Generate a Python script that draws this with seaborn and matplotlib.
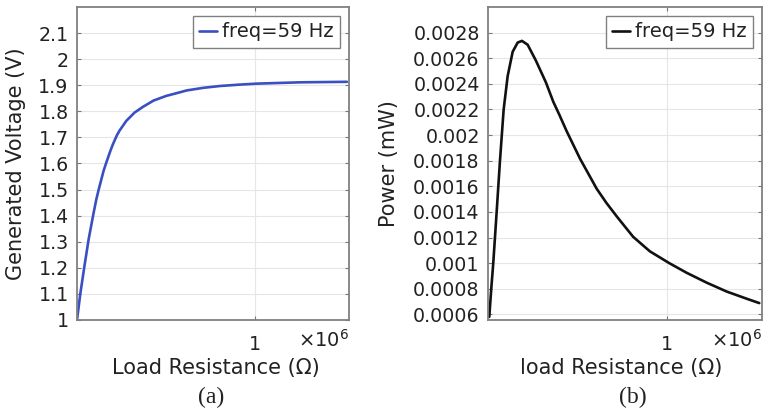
import numpy as np
import pandas as pd
import matplotlib
matplotlib.use("Agg")
import matplotlib.pyplot as plt
import seaborn as sns

# load resistance sweep (ohm) and readings
r_volt = [1.30e5, 1.46e5, 1.66e5, 1.87e5, 2.11e5, 2.243e5, 2.36e5, 2.487e5, 2.60e5, 2.731e5,
          2.93e5, 3.058e5, 3.25e5, 3.38e5, 3.707e5, 4.113e5, 4.524e5, 5.04e5, 5.662e5,
          6.15e5, 6.67e5, 7.48e5, 8.30e5, 9.2e5, 1.01e6, 1.22e6, 1.45e6]
voltage = [1.0, 1.10, 1.205, 1.31, 1.41, 1.462, 1.50, 1.538, 1.572, 1.603,
           1.648, 1.674, 1.708, 1.726, 1.763, 1.795, 1.817, 1.841, 1.859,
           1.869, 1.880, 1.890, 1.897, 1.902, 1.906, 1.911, 1.913]

r_power = [1.363e5, 1.46e5, 1.557e5, 1.722e5, 1.883e5, 2.062e5, 2.256e5, 2.499e5, 2.742e5,
           2.95e5, 3.227e5, 3.63e5, 4.115e5, 4.47e5, 4.76e5, 5.12e5, 5.77e5, 6.58e5, 7.05e5,
           7.55e5, 8.35e5, 9.16e5, 1.01e6, 1.094e6, 1.191e6, 1.289e6, 1.386e6, 1.447e6]
power = [0.00058, 0.00080, 0.001, 0.0014, 0.0018, 0.0022, 0.00246, 0.00265, 0.002722,
         0.002735, 0.002705, 0.00258, 0.00241, 0.00226, 0.00216, 0.00203, 0.001815, 0.00158, 0.00147,
         0.001365, 0.001205, 0.001092, 0.001, 0.000925, 0.000848, 0.000778, 0.000722, 0.000688]

volt_ticks = [1, 1.1, 1.2, 1.3, 1.4, 1.5, 1.6, 1.7, 1.8, 1.9, 2, 2.1]
volt_labels = ["1", "1.1", "1.2", "1.3", "1.4", "1.5", "1.6", "1.7", "1.8", "1.9", "2", "2.1"]
pow_ticks = [0.0006, 0.0008, 0.001, 0.0012, 0.0014, 0.0016, 0.0018, 0.002,
             0.0022, 0.0024, 0.0026, 0.0028]
pow_labels = ["0.0006", "0.0008", "0.001", "0.0012", "0.0014", "0.0016", "0.0018", "0.002",
              "0.0022", "0.0024", "0.0026", "0.0028"]

df_v = pd.DataFrame({"R": r_volt, "V": voltage})
df_p = pd.DataFrame({"R": r_power, "P": power})

sns.set_theme(style="white")
plt.rcParams["font.family"] = ["DejaVu Sans"]
plt.rcParams["text.color"] = "#222222"
plt.rcParams["axes.labelcolor"] = "#222222"
plt.rcParams["xtick.labelcolor"] = "#222222"
plt.rcParams["ytick.labelcolor"] = "#222222"

fig = plt.figure(figsize=(7.64, 4.13), dpi=100)
ax1 = fig.add_axes([0.1008, 0.2252, 0.356, 0.758])
ax2 = fig.add_axes([0.6387, 0.2252, 0.3586, 0.758])

sns.lineplot(data=df_v, x="R", y="V", ax=ax1, color="#3a4fc1", lw=1.9, label="freq=59 Hz")
sns.lineplot(data=df_p, x="R", y="P", ax=ax2, color="#111111", lw=1.9, label="freq=59 Hz")

ax1.set_ylim(1, 2.2)
ax1.set_yticks(volt_ticks)
ax1.set_yticklabels(volt_labels)
ax2.set_ylim(0.000556, 0.003)
ax2.set_yticks(pow_ticks)
ax2.set_yticklabels(pow_labels)

panels = [(ax1, "Load Resistance (\u03a9)", "Generated Voltage (V)", "(a)", 0.511, -0.1875, 0.493),
          (ax2, "load Resistance (\u03a9)", "Power (mW)", "(b)", 0.485, -0.325, 0.53)]
for ax, xlab, ylab, tag, xlx, ylx, tagx in panels:
    ax.set_xlim(1.3e5, 1.46e6)
    ax.set_xticks([1e6])
    ax.set_xticklabels(["1"])
    ax.grid(True, color="#e6e6e6", lw=0.8)
    ax.tick_params(direction="in", length=3, width=0.8, color="#777777",
                   labelsize=13.7, pad=6, left=True, right=True, top=True, bottom=True)
    ax.tick_params(axis="x", pad=11)
    for s in ax.spines.values():
        s.set_color("#808080")
        s.set_linewidth(1.3)
    ax.set_xlabel(xlab, fontsize=15)
    ax.set_ylabel(ylab, fontsize=15)
    ax.xaxis.set_label_coords(xlx, -0.12)
    ax.yaxis.set_label_coords(ylx, 0.5)
    ax.text(1.0, -0.03, r"$\times10^{6}$", transform=ax.transAxes, ha="right", va="top",
            fontsize=14)
    ax.text(tagx, -0.246, tag, transform=ax.transAxes, ha="center", va="center",
            fontsize=17, family="Liberation Serif")
    leg = ax.legend(loc="upper right", fontsize=14, handlelength=0.9, handletextpad=0.25,
                    borderpad=0.35, borderaxespad=0.45, fancybox=False, framealpha=1)
    leg.get_frame().set_edgecolor("#808080")
    leg.get_frame().set_linewidth(1.0)

fig.savefig("out.png", dpi=100)
